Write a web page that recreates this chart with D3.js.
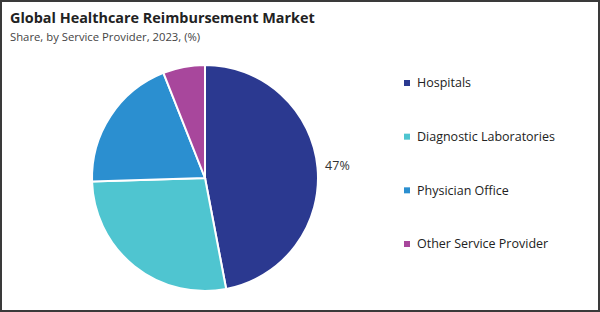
<!DOCTYPE html>
<html>
<head>
<meta charset="utf-8">
<script src="https://cdn.jsdelivr.net/npm/d3@7"></script>
<style>
  html, body { margin: 0; padding: 0; background: #fff; }
  #chart { width: 600px; height: 312px; }
  text { font-family: "Open Sans", sans-serif; }
</style>
</head>
<body>
<div id="chart"></div>
<script>
"use strict";

var categories = ["Hospitals", "Diagnostic Laboratories", "Physician Office", "Other Service Provider"];
var shares = [47, 27.5, 19.5, 6];
var labels = ["47%", "", "", ""];
var colors = ["#2b3990", "#4fc5d0", "#2b8fd0", "#a8479c"];

var width = 600, height = 312;
var cx = 205, cy = 178, radius = 113;

var svg = d3.select("#chart").append("svg").attr("width", width).attr("height", height);

svg.append("rect").attr("x", 1).attr("y", 1).attr("width", width - 2).attr("height", height - 2)
  .attr("fill", "#fff").attr("stroke", "#3a3a3a").attr("stroke-width", 2);

svg.append("text").attr("x", 10).attr("y", 23).attr("font-size", 14.4).attr("font-weight", "bold")
  .attr("fill", "#222").text("Global Healthcare Reimbursement Market");

svg.append("text").attr("x", 10).attr("y", 41).attr("font-size", 11.3).attr("fill", "#444")
  .text("Share, by Service Provider, 2023, (%)");

var data = categories.map(function (c, i) {
  return { name: c, value: shares[i], label: labels[i], color: colors[i] };
});

var pie = d3.pie().sort(null).value(function (d) { return d.value; });
var arc = d3.arc().innerRadius(0).outerRadius(radius);
var labelArc = d3.arc().innerRadius(radius + 20).outerRadius(radius + 20);

var g = svg.append("g").attr("transform", "translate(" + cx + "," + cy + ")");
var arcs = pie(data);

g.selectAll("path").data(arcs).enter().append("path")
  .attr("d", arc)
  .attr("fill", function (d) { return d.data.color; })
  .attr("stroke", "#fff").attr("stroke-width", 2);

g.selectAll("text.lbl").data(arcs).enter().append("text").attr("class", "lbl")
  .attr("transform", function (d) { return "translate(" + labelArc.centroid(d) + ")"; })
  .attr("text-anchor", "middle").attr("dy", "0.35em")
  .attr("font-size", 12.5).attr("fill", "#333")
  .text(function (d) { return d.data.label; });

var legendY = d3.scalePoint().domain(categories).range([83, 244]);

var legend = svg.append("g").selectAll("g").data(data).enter().append("g")
  .attr("transform", function (d) { return "translate(404," + legendY(d.name) + ")"; });

legend.append("rect").attr("x", 0).attr("y", -3).attr("width", 6).attr("height", 6)
  .attr("fill", function (d) { return d.color; });

legend.append("text").attr("x", 13).attr("dy", "0.35em").attr("font-size", 12.5).attr("fill", "#222")
  .text(function (d) { return d.name; });
</script>
</body>
</html>
